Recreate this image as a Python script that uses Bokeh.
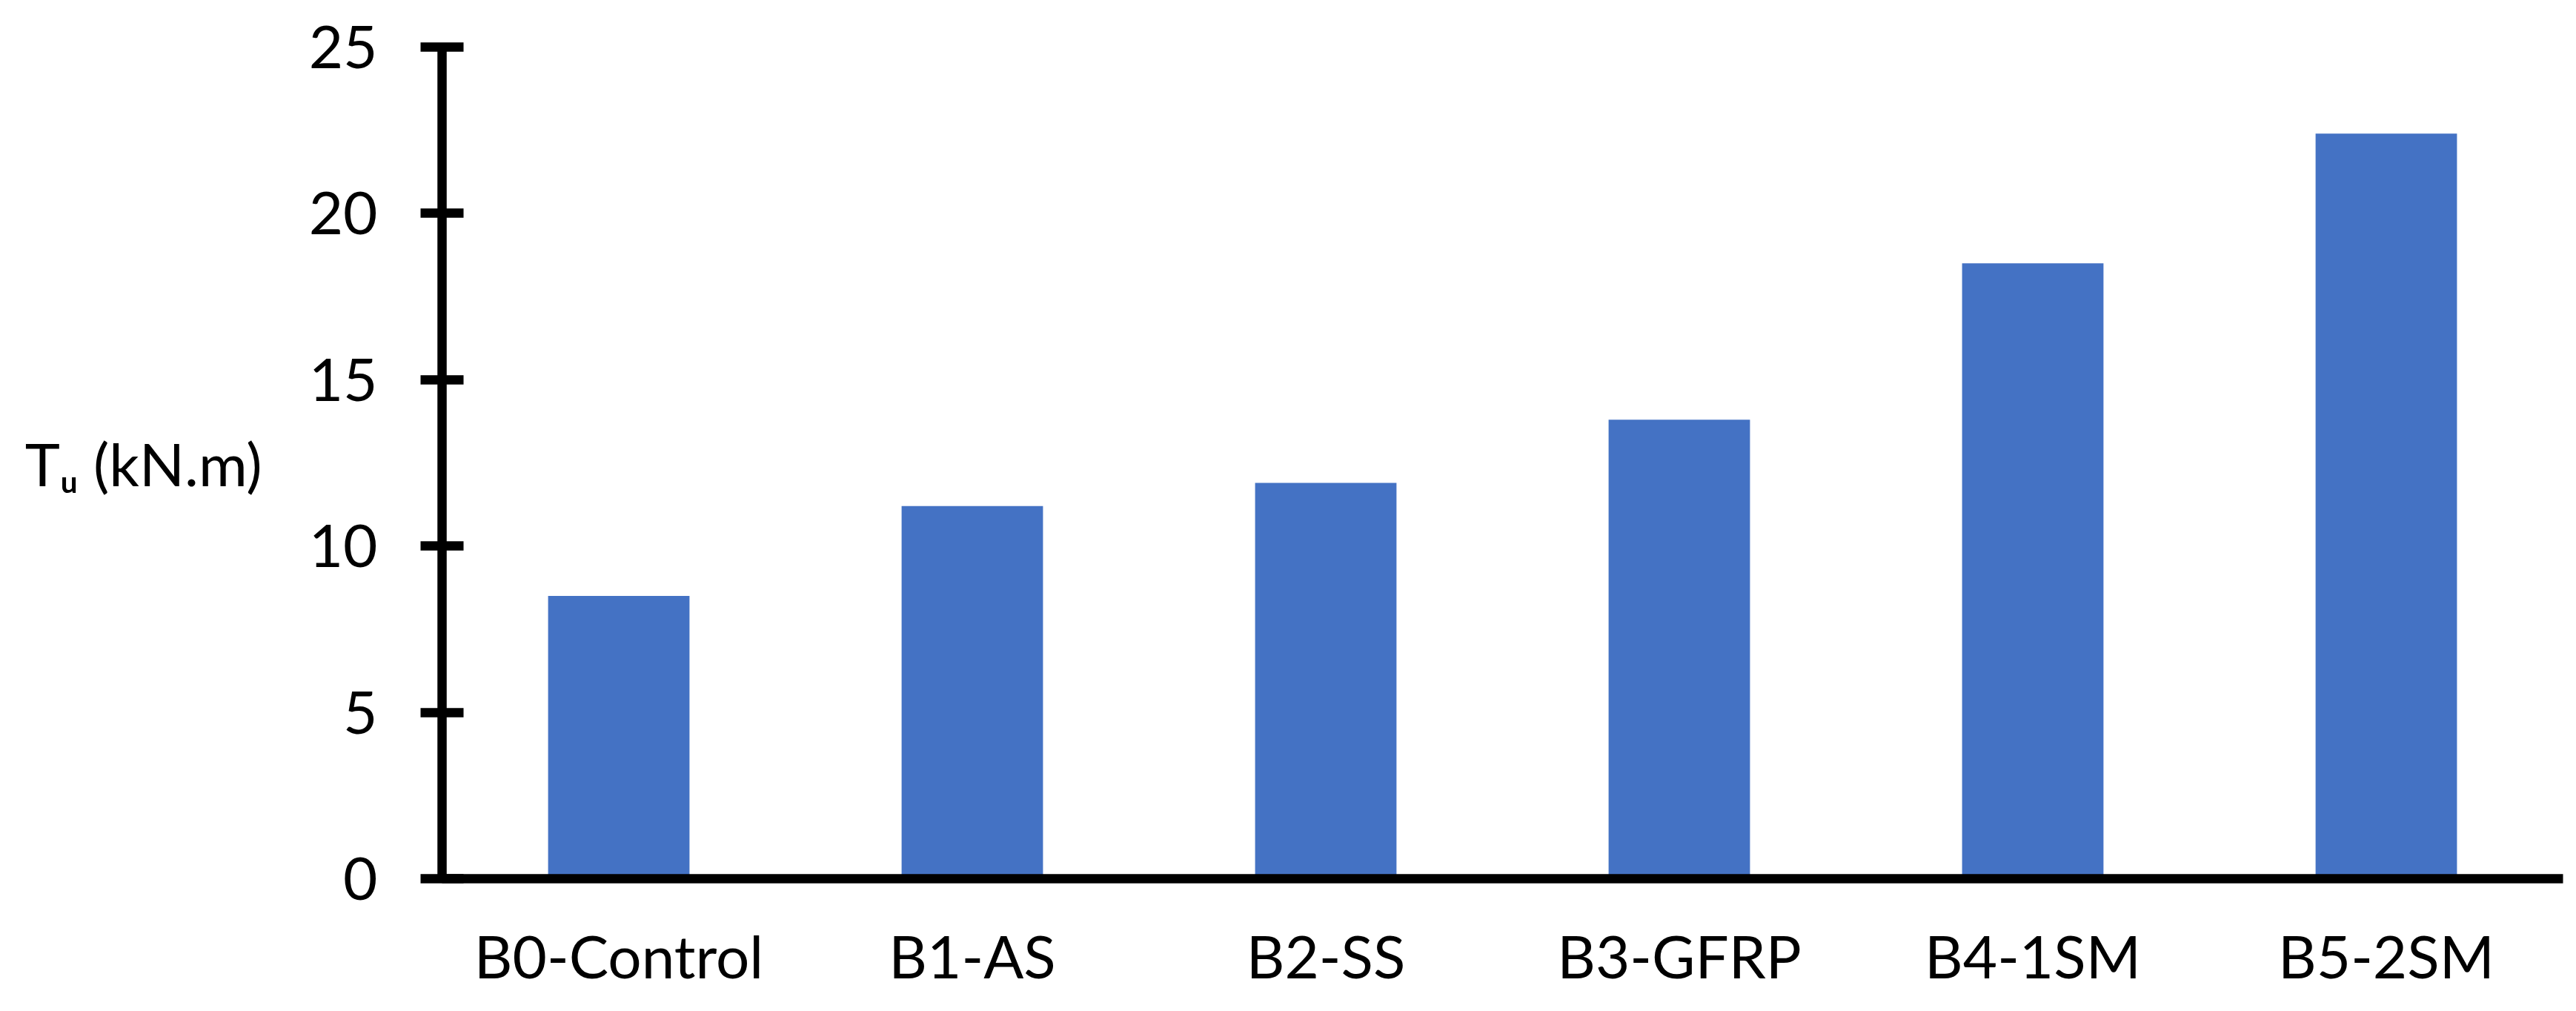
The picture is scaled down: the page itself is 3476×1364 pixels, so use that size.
from bokeh.plotting import figure
from bokeh.models import Range1d, FactorRange, FixedTicker
from bokeh.embed import file_html
from bokeh.resources import INLINE

categories = ["B0-Control", "B1-AS", "B2-SS", "B3-GFRP", "B4-1SM", "B5-2SM"]
torque = [8.5, 11.2, 11.9, 13.8, 18.5, 22.4]
y_ticks = [0, 5, 10, 15, 20, 25]
y_title = "T\u1d64 (kN.m)"

FONT = "Lato"
W, H = 3476, 1364

p = figure(x_range=FactorRange(*categories, range_padding=0), y_range=Range1d(0, 25),
           width=W, height=H, output_backend="svg", toolbar_location=None,
           min_border_left=596, min_border_right=18, min_border_top=63, min_border_bottom=179)
p.outline_line_color = None
p.grid.visible = False
p.background_fill_color = "white"
p.border_fill_color = "white"

p.vbar(x=categories, top=torque, width=0.4, bottom=0, color="#4472C4", line_color=None)

yax = p.yaxis[0]
yax.ticker = FixedTicker(ticks=y_ticks)
yax.axis_line_width = 12.5
yax.axis_line_color = "black"
yax.major_tick_line_width = 12.5
yax.major_tick_line_color = "black"
yax.major_tick_in = 29
yax.major_tick_out = 29
yax.minor_tick_line_color = None
yax.major_label_text_font = FONT
yax.major_label_text_font_size = "80px"
yax.major_label_text_color = "black"
yax.major_label_standoff = 58
yax.axis_label = y_title
yax.axis_label_orientation = "horizontal"
yax.axis_label_text_font = FONT
yax.axis_label_text_font_style = "normal"
yax.axis_label_text_font_size = "80px"
yax.axis_label_text_color = "black"
yax.axis_label_standoff = 60

xax = p.xaxis[0]
xax.axis_line_width = 12.5
xax.axis_line_color = "black"
xax.major_tick_line_color = None
xax.major_tick_in = 0
xax.major_tick_out = 0
xax.minor_tick_line_color = None
xax.major_label_text_font = FONT
xax.major_label_text_font_size = "80px"
xax.major_label_text_color = "black"
xax.major_label_standoff = 55

open("out.html", "w").write(file_html(p, INLINE))
